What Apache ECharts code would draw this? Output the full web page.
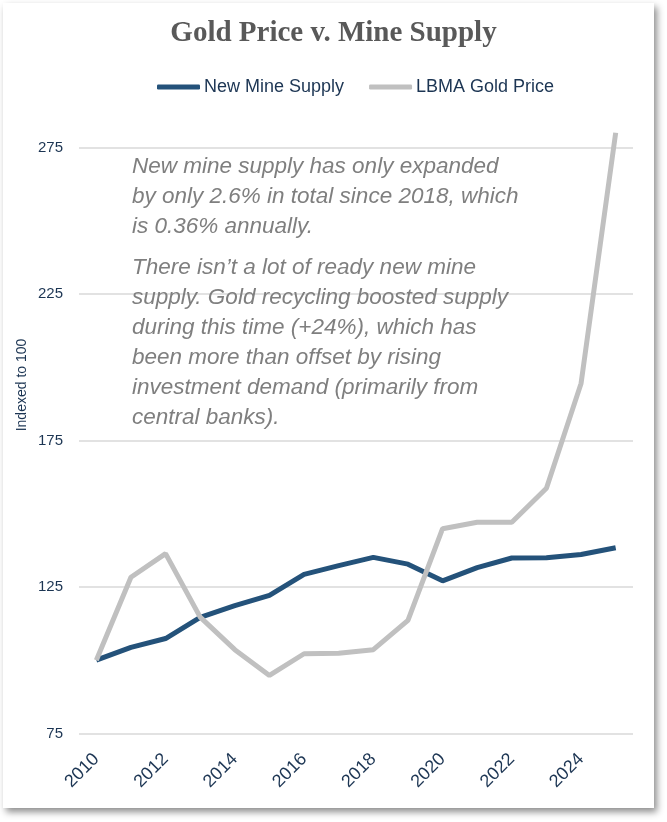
<!DOCTYPE html>
<html>
<head>
<meta charset="utf-8">
<script src="https://cdn.jsdelivr.net/npm/echarts@6/dist/echarts.min.js"></script>
<style>
  html, body { margin: 0; padding: 0; background: #fff; }
  #card {
    position: absolute; left: 3px; top: 3px; width: 651px; height: 805px;
    background: #fff; box-shadow: 3px 4px 7px rgba(0,0,0,0.45);
  }
  #main { position: absolute; left: 0; top: 0; width: 667px; height: 822px; }
</style>
</head>
<body>
<div id="card"></div>
<div id="main"></div>
<script>
// years on the x axis
const years = ['2010','2011','2012','2013','2014','2015','2016','2017',
               '2018','2019','2020','2021','2022','2023','2024','2025']

// indexed to 100 in 2010
const mineSupply = [100, 104.4, 107.4, 114.6, 118.6, 122.1, 129.3, 132.3,
                    135.1, 132.8, 127.1, 131.6, 134.9, 135.0, 136.1, 138.4]
const goldPrice  = [100, 128.3, 136.4, 114.7, 103.6, 94.8, 102.2, 102.4,
                    103.6, 113.6, 144.9, 147.1, 147.1, 158.7, 194.5, 280.1]

const yTicks = [75, 125, 175, 225, 275]

const note1 = 'New mine supply has only expanded\nby only 2.6% in total since 2018, which\nis 0.36% annually.'
const note2 = 'There isn\u2019t a lot of ready new mine\nsupply. Gold recycling boosted supply\nduring this time (+24%), which has\nbeen more than offset by rising\ninvestment demand (primarily from\ncentral banks).'

const navy = '#1c3553'
const sans = '"Liberation Sans", Arial, sans-serif'

var chart = echarts.init(document.getElementById('main'))
chart.setOption({
    animation: false,
    title: {
        text: 'Gold Price v. Mine Supply',
        left: 'center', top: 14,
        textStyle: { fontFamily: '"Liberation Serif", "DejaVu Serif", serif', fontWeight: 'bold', fontSize: 29, color: '#595959' }
    },
    legend: {
        left: 152, top: 73,
        itemWidth: 43, itemHeight: 5, itemGap: 25,
        icon: 'roundRect',
        textStyle: { fontFamily: sans, fontSize: 18, color: navy, padding: [0, 0, 0, -1] },
        data: ['New Mine Supply', 'LBMA Gold Price']
    },
    grid: { left: 79, right: 34, top: 147.7, bottom: 88.6 },
    xAxis: {
        type: 'category',
        data: years,
        boundaryGap: true,
        axisLine: { show: false },
        axisTick: { show: false },
        axisLabel: {
            interval: 1, rotate: 45, margin: 23,
            fontFamily: sans, fontSize: 18, color: navy
        }
    },
    yAxis: {
        type: 'value',
        min: yTicks[0], max: yTicks[yTicks.length - 1], interval: 50,
        axisLine: { show: false },
        axisTick: { show: false },
        axisLabel: { margin: 16, fontFamily: sans, fontSize: 15, color: navy },
        splitLine: { lineStyle: { color: '#d9d9d9', width: 1.5 } }
    },
    graphic: [
        {
            type: 'text', x: 22, y: 385, rotation: Math.PI / 2,
            style: { text: 'Indexed to 100', fill: navy, fontSize: 14,
                     fontFamily: sans, align: 'center', verticalAlign: 'middle' }
        },
        {
            type: 'text', x: 132, y: 152, z: 10,
            style: { text: note1, fill: '#7f7f7f', fontSize: 22.5, fontStyle: 'italic', lineHeight: 30,
                     fontFamily: sans, verticalAlign: 'top' }
        },
        {
            type: 'text', x: 132, y: 253, z: 10,
            style: { text: note2, fill: '#7f7f7f', fontSize: 22.5, fontStyle: 'italic', lineHeight: 30,
                     fontFamily: sans, verticalAlign: 'top' }
        }
    ],
    series: [
        {
            name: 'New Mine Supply', type: 'line', data: mineSupply,
            symbol: 'none', clip: false,
            itemStyle: { color: '#24527a' },
            lineStyle: { color: '#24527a', width: 5 }
        },
        {
            name: 'LBMA Gold Price', type: 'line', data: goldPrice,
            symbol: 'none', clip: false,
            itemStyle: { color: '#c0c0c0' },
            lineStyle: { color: '#c0c0c0', width: 5 }
        }
    ]
})
</script>
</body>
</html>
